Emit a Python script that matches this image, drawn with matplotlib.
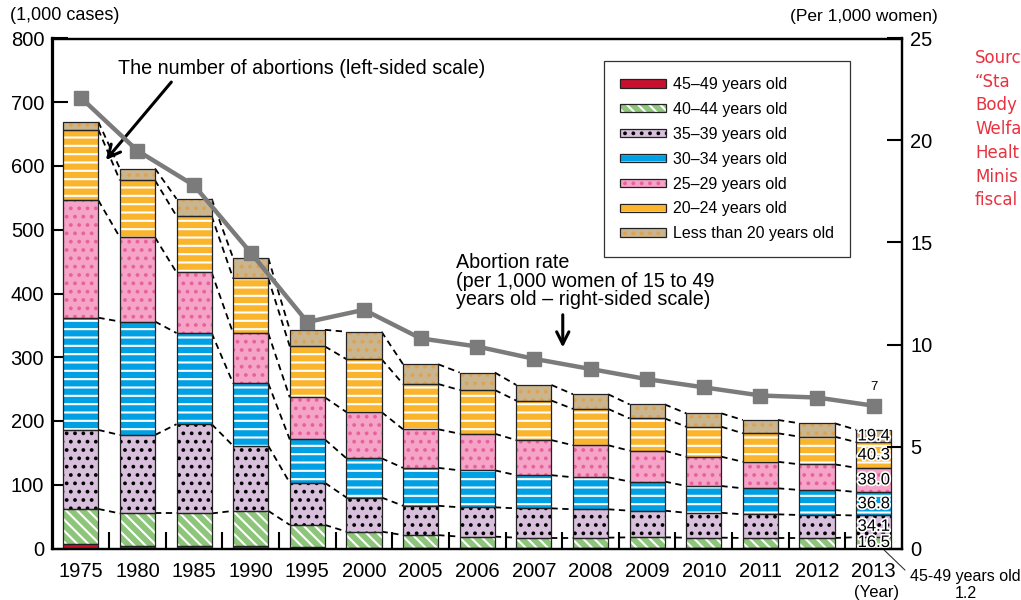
import numpy as np
import matplotlib.pyplot as plt
import matplotlib.patheffects as pe
from matplotlib.patches import Patch
from matplotlib.legend_handler import HandlerTuple

plt.rcParams['font.family'] = ['Liberation Sans', 'DejaVu Sans']
plt.rcParams['hatch.linewidth'] = 1.5

years = ['1975', '1980', '1985', '1990', '1995', '2000', '2005', '2006',
         '2007', '2008', '2009', '2010', '2011', '2012', '2013']

# abortions by age group (1,000 cases)
age_45_49 = [6.5, 4.5, 4.0, 3.5, 2.5, 1.5, 1.2, 1.1, 1.0, 1.0, 1.0, 1.0, 1.0, 1.1, 1.2]
age_40_44 = [55.5, 50.5, 51.0, 55.5, 34.5, 25.0, 19.8, 17.5, 16.0, 16.0, 16.5, 16.0, 15.5, 15.4, 16.5]
age_35_39 = [124, 123, 140, 102, 66, 53.5, 46, 46, 46, 44.5, 41.8, 39, 37.1, 36, 34.1]
age_30_34 = [176, 178, 143, 98, 68, 61.5, 59.5, 58, 52, 50.2, 45.7, 42, 40.8, 39.3, 36.8]
age_25_29 = [184, 132, 95, 78.6, 66, 72.5, 60.5, 57.4, 55, 50.3, 48.4, 46, 41.6, 40.2, 38.0]
age_20_24 = [111, 89.5, 88.5, 86, 80, 83, 71, 68.6, 62, 57, 50.6, 47, 44.7, 43.4, 40.3]
age_under_20 = [12, 18.5, 27, 32, 26, 43, 31, 27.4, 24.5, 23, 22, 21, 20.9, 21, 19.4]

# abortion rate (per 1,000 women aged 15-49)
rate = [22.1, 19.5, 17.8, 14.5, 11.1, 11.7, 10.3, 9.9, 9.3, 8.8, 8.3, 7.9, 7.5, 7.4, 7.0]

# (values, label, face, hatch, hatch colour)
layers = [
    (age_45_49, '45\u201349 years old', '#c8102e', '', 'none'),
    (age_40_44, '40\u201344 years old', '#8dc67b', '\\\\\\', 'white'),
    (age_35_39, '35\u201339 years old', '#d8bfdc', '..', 'black'),
    (age_30_34, '30\u201334 years old', '#00a0e4', '--', 'white'),
    (age_25_29, '25\u201329 years old', '#f5a3c7', '..', '#e8609c'),
    (age_20_24, '20\u201324 years old', '#fbb52d', '--', 'white'),
    (age_under_20, 'Less than 20 years old', '#c9b58f', '..', '#e0a24e'),
]

W, H = 1021, 600
fig = plt.figure(figsize=(W / 100, H / 100), dpi=100)
ax = fig.add_axes([52.5 / W, 1 - 548.5 / H, (902 - 52.5) / W, (548.5 - 38.5) / H])

x = np.arange(len(years))
w = 0.62
bottom = np.zeros(len(years))
tops = []
handles = []
for vals, label, fc, hatch, hc in layers:
    vals = np.array(vals, dtype=float)
    ax.bar(x, vals, w, bottom=bottom, color=fc, hatch=hatch, edgecolor=hc,
           linewidth=0, zorder=2)
    ax.bar(x, vals, w, bottom=bottom, fill=False, edgecolor='#222222',
           linewidth=0.9, zorder=3)
    bottom = bottom + vals
    tops.append(bottom.copy())
    handles.append((Patch(facecolor=fc, hatch=hatch, edgecolor=hc, linewidth=0),
                    Patch(fill=False, edgecolor='#222222', linewidth=0.9)))

# dashed connectors between bars
for t in tops[1:]:
    for i in range(len(x) - 1):
        ax.plot([x[i] + w / 2, x[i + 1] - w / 2], [t[i], t[i + 1]],
                ls=(0, (3.5, 2.5)), color='black', lw=1.3, zorder=1)

ax.set_xlim(-0.5, len(years) - 0.5)
ax.set_ylim(0, 800)
ax.set_yticks(range(0, 801, 100))
ax.set_xticks(x, years)
ax.set_xticks(x[:-1] + 0.5, minor=True)
ax.tick_params(axis='x', which='major', length=0, labelsize=14.5, pad=10)
ax.tick_params(axis='x', which='minor', direction='in', length=12, width=1.5)
ax.tick_params(axis='y', direction='in', length=11, width=1.5, labelsize=14.5, pad=6)
for s in ax.spines.values():
    s.set_linewidth(1.6)

ax2 = ax.twinx()
ax2.plot(x, rate, color='#7b7b7b', lw=3.2, marker='s', markersize=10, zorder=5)
ax2.set_ylim(0, 25)
ax2.set_yticks(range(0, 26, 5))
ax2.tick_params(axis='y', direction='in', length=11, width=1.5, labelsize=14.5, pad=6)
for s in ax2.spines.values():
    s.set_linewidth(1.6)
ax2.annotate('7', (x[-1], rate[-1]), xytext=(0, 9), textcoords='offset points',
             ha='center', va='bottom', fontsize=9.5)

# values for 2013
for (vals, label, fc, hatch, hc), t in zip(layers[1:], tops[1:]):
    v = vals[-1]
    ax.text(x[-1], t[-1] - v / 2, f'{v:.1f}', ha='center', va='center',
            fontsize=12, zorder=6,
            path_effects=[pe.withStroke(linewidth=2.5, foreground='white')])

ax.annotate('', xy=(x[-1] + 0.15, age_45_49[-1] / 2), xycoords='data',
            xytext=(907 / W, 1 - 572 / H), textcoords='figure fraction',
            arrowprops=dict(arrowstyle='-', lw=0.8, color='#333333'))
fig.text(910 / W, 1 - 576 / H, '45-49 years old', fontsize=11.5, va='center')
fig.text(966 / W, 1 - 593 / H, f'{age_45_49[-1]:.1f}', fontsize=11.5, va='center', ha='center')
fig.text(877 / W, 1 - 592 / H, '(Year)', fontsize=12, va='center', ha='center')

fig.text(10 / W, 1 - 16 / H, '(1,000 cases)', fontsize=13, va='center')
fig.text(938 / W, 1 - 16 / H, '(Per 1,000 women)', fontsize=12.5, va='center', ha='right')

# annotations
ax2.annotate('', xy=(0.41, 606 / 32), xytext=(1.63, 735 / 32),
             arrowprops=dict(arrowstyle='->', lw=2.2, color='black',
                             mutation_scale=22))
fig.text(118 / W, 1 - 68 / H, 'The number of abortions (left-sided scale)',
         fontsize=14.2, va='center')
fig.text(456 / W, 1 - 253 / H,
         'Abortion rate\n(per 1,000 women of 15 to 49\nyears old \u2013 right-sided scale)',
         fontsize=14.2, va='top', linespacing=0.98)
ax2.annotate('', xy=(8.51, 311 / 32), xytext=(8.51, 371 / 32),
             arrowprops=dict(arrowstyle='->', lw=2.2, color='black',
                             mutation_scale=22))

leg = ax2.legend(handles, [l[1] for l in layers], loc='upper left',
                 bbox_to_anchor=(604 / W, 1 - 61 / H), bbox_transform=fig.transFigure,
                 handler_map={tuple: HandlerTuple(ndivide=1, pad=0)},
                 fontsize=11.5, frameon=True, fancybox=False, borderaxespad=0,
                 borderpad=1.0, handlelength=2.9, handleheight=0.45,
                 handletextpad=0.45, labelspacing=0.62)
leg.get_frame().set_edgecolor('black')
leg.get_frame().set_linewidth(0.9)

# source note (cut off at the right edge in the original)
fig.text(975 / W, 1 - 49 / H,
         'Sourc\n\u201cSta\nBody\nWelfa\nHealt\nMinis\nfiscal',
         fontsize=12, color='#e8323f', va='top', linespacing=1.41,
         family='DejaVu Sans')

fig.savefig('out.png', dpi=100)
